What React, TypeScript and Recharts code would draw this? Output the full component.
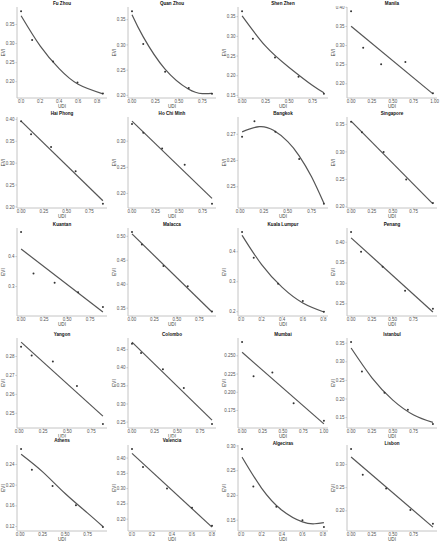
import React from "react"
import { ComposedChart, Line, Scatter, XAxis, YAxis } from "recharts"

const cities = [
  "Fu Zhou", "Quan Zhou", "Shen Zhen", "Manila",
  "Hai Phong", "Ho Chi Minh", "Bangkok", "Singapore",
  "Kuantan", "Malacca", "Kuala Lumpur", "Penang",
  "Yangon", "Colombo", "Mumbai", "Istanbul",
  "Athens", "Valencia", "Algeciras", "Lisbon",
]

// observed points (UDI, EVI)
const udi = [
  [0.0, 0.116, 0.336, 0.593, 0.86],
  [0.0, 0.12, 0.353, 0.605, 0.853],
  [0.0, 0.115, 0.35, 0.6, 0.87],
  [0.0, 0.145, 0.36, 0.65, 0.98],
  [0.0, 0.11, 0.33, 0.6, 0.9],
  [0.0, 0.12, 0.32, 0.56, 0.85],
  [0.02, 0.15, 0.37, 0.62, 0.88],
  [0.0, 0.13, 0.39, 0.66, 0.98],
  [0.0, 0.135, 0.365, 0.62, 0.89],
  [0.0, 0.11, 0.35, 0.62, 0.89],
  [0.01, 0.123, 0.36, 0.6, 0.805],
  [0.0, 0.12, 0.38, 0.65, 0.985],
  [0.02, 0.13, 0.35, 0.6, 0.87],
  [0.0, 0.1, 0.34, 0.57, 0.88],
  [0.0, 0.14, 0.37, 0.63, 1.0],
  [0.0, 0.13, 0.4, 0.68, 0.98],
  [0.01, 0.13, 0.36, 0.62, 0.92],
  [0.0, 0.11, 0.35, 0.6, 0.8],
  [0.01, 0.12, 0.345, 0.6, 0.81],
  [0.0, 0.14, 0.42, 0.71, 0.98],
]
const evi = [
  [0.385, 0.309, 0.253, 0.198, 0.169],
  [0.367, 0.302, 0.247, 0.2146, 0.203],
  [0.364, 0.294, 0.246, 0.1975, 0.154],
  [0.39, 0.294, 0.251, 0.257, 0.175],
  [0.396, 0.366, 0.337, 0.2815, 0.207],
  [0.333, 0.316, 0.286, 0.255, 0.18],
  [0.2691, 0.275, 0.271, 0.2606, 0.2435],
  [0.355, 0.336, 0.3, 0.25, 0.207],
  [0.482, 0.344, 0.313, 0.281, 0.232],
  [0.509, 0.483, 0.438, 0.396, 0.343],
  [0.466, 0.38, 0.293, 0.236, 0.2],
  [0.425, 0.377, 0.34, 0.282, 0.238],
  [0.2852, 0.2805, 0.2774, 0.2644, 0.2444],
  [0.466, 0.441, 0.396, 0.344, 0.245],
  [0.2688, 0.2218, 0.2272, 0.1851, 0.161],
  [0.353, 0.274, 0.217, 0.171, 0.133],
  [0.27, 0.2297, 0.1983, 0.1613, 0.119],
  [0.43, 0.371, 0.3, 0.237, 0.178],
  [0.294, 0.218, 0.177, 0.15, 0.136],
  [0.3336, 0.278, 0.248, 0.202, 0.172],
]

// fitted curves, read at a few UDI positions
const fitUdi = [
  [0.0, 0.2, 0.4, 0.6, 0.86],
  [0.0, 0.12, 0.35, 0.6, 0.75, 0.853],
  [0.0, 0.25, 0.5, 0.75, 0.87],
  [0.0, 0.98],
  [0.0, 0.9],
  [0.0, 0.85],
  [0.02, 0.2, 0.35, 0.5, 0.62, 0.75, 0.88],
  [0.0, 0.98],
  [0.0, 0.89],
  [0.0, 0.89],
  [0.01, 0.2, 0.4, 0.6, 0.805],
  [0.0, 0.985],
  [0.02, 0.87],
  [0.0, 0.88],
  [0.0, 1.0],
  [0.0, 0.25, 0.5, 0.75, 0.98],
  [0.01, 0.25, 0.5, 0.75, 0.92],
  [0.0, 0.8],
  [0.01, 0.2, 0.4, 0.6, 0.72, 0.81],
  [0.0, 0.98],
]
const fitEvi = [
  [0.373, 0.294, 0.234, 0.193, 0.168],
  [0.36, 0.316, 0.2526, 0.2128, 0.2035, 0.204],
  [0.352, 0.275, 0.221, 0.175, 0.157],
  [0.3505, 0.1736],
  [0.396, 0.214],
  [0.3384, 0.1905],
  [0.2709, 0.2729, 0.2715, 0.2672, 0.2618, 0.2538, 0.2437],
  [0.356, 0.2055],
  [0.4253, 0.2153],
  [0.505, 0.342],
  [0.455, 0.357, 0.281, 0.229, 0.199],
  [0.4108, 0.23],
  [0.2876, 0.2485],
  [0.4708, 0.2556],
  [0.2548, 0.1566],
  [0.337, 0.257, 0.197, 0.157, 0.137],
  [0.2598, 0.2257, 0.1838, 0.146, 0.12],
  [0.4155, 0.174],
  [0.2773, 0.2149, 0.17, 0.1465, 0.1427, 0.1449],
  [0.3161, 0.1649],
]

const quarters = ["0.00", "0.25", "0.50", "0.75"]
const quartersToOne = ["0.00", "0.25", "0.50", "0.75", "1.00"]
const fifths = ["0.0", "0.2", "0.4", "0.6", "0.8"]
const xTickLabels = [
  fifths, quarters, quarters, quartersToOne,
  quarters, quarters, quarters, quarters,
  quarters, quarters, fifths, quarters,
  quarters, quarters, quartersToOne, quarters,
  quarters, fifths, fifths, quarters,
]
const yTickLabels = [
  ["0.20", "0.25", "0.30", "0.35"],
  ["0.20", "0.25", "0.30", "0.35"],
  ["0.15", "0.20", "0.25", "0.30", "0.35"],
  ["0.20", "0.25", "0.30", "0.35", "0.40"],
  ["0.20", "0.25", "0.30", "0.35", "0.40"],
  ["0.20", "0.25", "0.30"],
  ["0.25", "0.26", "0.27"],
  ["0.20", "0.25", "0.30", "0.35"],
  ["0.3", "0.4"],
  ["0.35", "0.40", "0.45", "0.50"],
  ["0.2", "0.3", "0.4"],
  ["0.25", "0.30", "0.35", "0.40"],
  ["0.25", "0.26", "0.27", "0.28"],
  ["0.25", "0.30", "0.35", "0.40", "0.45"],
  ["0.175", "0.200", "0.225", "0.250"],
  ["0.15", "0.20", "0.25", "0.30", "0.35"],
  ["0.12", "0.16", "0.20", "0.24"],
  ["0.20", "0.25", "0.30", "0.35", "0.40"],
  ["0.15", "0.20", "0.25", "0.30"],
  ["0.20", "0.25", "0.30"],
]

const curved = [true, true, true, false, false, false, true, false, false, false, true, false, false, false, false, true, true, false, true, false]

const FONT = "'Liberation Sans', Arial, sans-serif"
const COL_LEFT = [0, 111, 221, 330]
const COL_RIGHT_MARGIN = [4, 6, 4, 4]
const ROWS = [
  { title: 3, top: 7, bottom: 98 },
  { title: 113, top: 117, bottom: 208 },
  { title: 224, top: 228, bottom: 316 },
  { title: 334, top: 338, bottom: 428 },
  { title: 440, top: 445, bottom: 531 },
]
const AXIS_W = 17
const XAXIS_H = 10
const PANEL_W = 111

const padded = (vals: number[]) => {
  const lo = Math.min(...vals)
  const hi = Math.max(...vals)
  const p = (hi - lo) * 0.05
  return [lo - p, hi + p]
}

const Dot = (props: any) => <circle cx={props.cx} cy={props.cy} r={1} fill="#333" />

function Panel({ i }: { i: number }) {
  const col = i % 4
  const rowIndex = Math.floor(i / 4)
  const row = ROWS[rowIndex]
  const titleY = rowIndex === 4 && col >= 2 ? row.title + 3 : row.title
  const left = COL_LEFT[col]
  const rightMargin = COL_RIGHT_MARGIN[col]
  const points = udi[i].map((u, k) => ({ udi: u, evi: evi[i][k] }))
  const fit = fitUdi[i].map((u, k) => ({ udi: u, evi: fitEvi[i][k] }))
  const xDomain = padded([...udi[i], ...fitUdi[i]])
  const yDomain = padded([...evi[i], ...fitEvi[i]])
  const xt = xTickLabels[i]
  const yt = yTickLabels[i]
  const fmt = (labels: string[]) => (v: number) => labels.find(s => Number(s) === v) ?? String(v)
  const tick = { fontSize: 4.5, fill: "#555", fontFamily: FONT }
  const axisStroke = { stroke: "#c4c4c4" }
  const plotW = PANEL_W - AXIS_W - rightMargin

  return (
    <>
      <div style={{ position: "absolute", left, top: row.top - 1 }}>
        <ComposedChart
          width={PANEL_W}
          height={row.bottom - row.top + 1 + XAXIS_H}
          margin={{ top: 1, right: rightMargin, bottom: 0, left: 0 }}
        >
          <XAxis
            dataKey="udi"
            type="number"
            domain={xDomain}
            ticks={xt.map(Number)}
            tickFormatter={fmt(xt)}
            interval={0}
            height={XAXIS_H}
            tick={tick}
            tickSize={1.5}
            tickMargin={0.5}
            axisLine={axisStroke}
            tickLine={axisStroke}
            allowDataOverflow
            label={{ value: "UDI", position: "insideBottom", offset: 0, style: { fontSize: 4.6, fill: "#444", fontFamily: FONT } }}
          />
          <YAxis
            dataKey="evi"
            type="number"
            domain={yDomain}
            ticks={yt.map(Number)}
            tickFormatter={fmt(yt)}
            interval={0}
            width={AXIS_W}
            tick={tick}
            tickSize={1.5}
            tickMargin={1}
            axisLine={axisStroke}
            tickLine={axisStroke}
            allowDataOverflow
            label={{ value: "EVI", angle: -90, position: "insideLeft", offset: 3, style: { textAnchor: "middle", fontSize: 4.6, fill: "#444", fontFamily: FONT } }}
          />
          <Line
            data={fit}
            dataKey="evi"
            type={curved[i] ? "natural" : "linear"}
            stroke="#555"
            strokeWidth={1.2}
            dot={false}
            activeDot={false}
            isAnimationActive={false}
          />
          <Scatter data={points} dataKey="evi" shape={Dot} isAnimationActive={false} />
        </ComposedChart>
      </div>
      <svg
        width={plotW}
        height={7}
        style={{ position: "absolute", left: left + AXIS_W, top: titleY - 3.5 }}
      >
        <rect x={plotW / 2 - 14} y={0.5} width={28} height={6} fill="#fff" />
        <text
          x={plotW / 2}
          y={5}
          textAnchor="middle"
          fontSize={4.6}
          fontWeight="bold"
          fontFamily={FONT}
          fill="#111"
        >
          {cities[i]}
        </text>
      </svg>
    </>
  )
}

export default function App() {
  return (
    <div
      style={{
        position: "absolute",
        left: 0,
        top: 0,
        width: 445,
        height: 550,
        background: "#fff",
        fontFamily: FONT,
      }}
    >
      {cities.map((_, i) => (
        <Panel key={i} i={i} />
      ))}
    </div>
  )
}
